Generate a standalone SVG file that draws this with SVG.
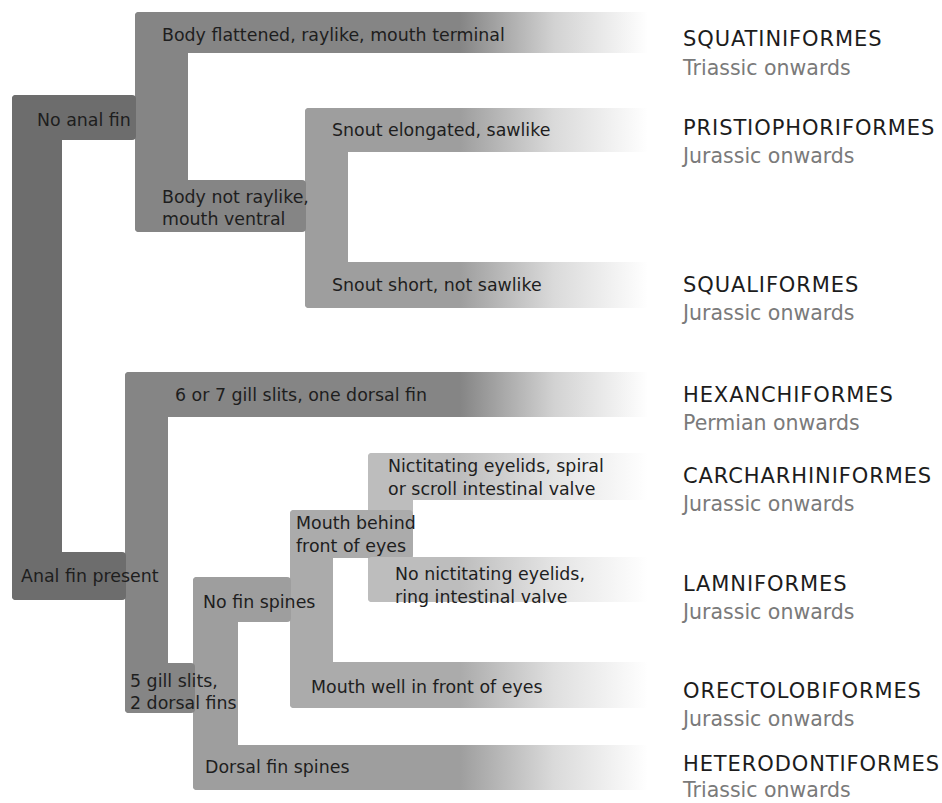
<svg xmlns="http://www.w3.org/2000/svg" width="942" height="803" viewBox="0 0 942 803">
<style>
.lbl{font-family:"DejaVu Sans","Liberation Sans",sans-serif;font-size:17.4px;fill:#1e1e1e}
.tax{font-family:"DejaVu Sans","Liberation Sans",sans-serif;font-size:21px;letter-spacing:0.9px;fill:#1c1c1c}
.age{font-family:"DejaVu Sans","Liberation Sans",sans-serif;font-size:20.5px;fill:#7a7a7a}
.c1{fill:#6d6d6d}.c2{fill:#858585}.c3{fill:#9e9e9e}.c4{fill:#ababab}.c5{fill:#bdbdbd}
</style>
<defs>
<linearGradient id="g2" gradientUnits="userSpaceOnUse" x1="460" y1="0" x2="648" y2="0"><stop offset="0" stop-color="#858585"/><stop offset="0.5" stop-color="#d2d2d2"/><stop offset="1" stop-color="#ffffff"/></linearGradient>
<linearGradient id="g3" gradientUnits="userSpaceOnUse" x1="460" y1="0" x2="648" y2="0"><stop offset="0" stop-color="#9e9e9e"/><stop offset="0.5" stop-color="#dadada"/><stop offset="1" stop-color="#ffffff"/></linearGradient>
<linearGradient id="g4" gradientUnits="userSpaceOnUse" x1="460" y1="0" x2="648" y2="0"><stop offset="0" stop-color="#ababab"/><stop offset="0.5" stop-color="#dfdfdf"/><stop offset="1" stop-color="#ffffff"/></linearGradient>
<linearGradient id="g5" gradientUnits="userSpaceOnUse" x1="460" y1="0" x2="648" y2="0"><stop offset="0" stop-color="#bdbdbd"/><stop offset="0.5" stop-color="#e4e4e4"/><stop offset="1" stop-color="#ffffff"/></linearGradient>
</defs>
<rect width="942" height="803" fill="#ffffff"/>
<g id="connectors">
<rect class="c1" x="12" y="95" width="50" height="505" rx="4"/>
<rect class="c2" x="135" y="12" width="53" height="220" rx="4"/>
<rect class="c3" x="305" y="108" width="43" height="200" rx="4"/>
<rect class="c2" x="125" y="372" width="43" height="341" rx="4"/>
<rect class="c3" x="193" y="577" width="45" height="213" rx="4"/>
<rect class="c4" x="290" y="510" width="43" height="198" rx="4"/>
<rect class="c5" x="368" y="453" width="45" height="149" rx="4"/>
</g>
<g id="node-no-anal-fin"><rect class="c1" x="12" y="95" width="124" height="45" rx="4"/><text class="lbl" x="37" y="126">No anal fin</text></g>
<g id="node-anal-fin-present"><rect class="c1" x="12" y="552" width="114" height="48" rx="4"/><text class="lbl" x="21" y="582">Anal fin present</text></g>
<g id="node-body-flattened"><rect fill="url(#g2)" x="135" y="12" width="515" height="41" rx="4"/><text class="lbl" x="162" y="41">Body flattened, raylike, mouth terminal</text></g>
<g id="node-body-not-raylike"><rect class="c2" x="135" y="180" width="171" height="52" rx="4"/><text class="lbl" x="162" y="203">Body not raylike,</text><text class="lbl" x="162" y="225">mouth ventral</text></g>
<g id="node-snout-elongated"><rect fill="url(#g3)" x="305" y="108" width="345" height="44" rx="4"/><text class="lbl" x="332" y="136">Snout elongated, sawlike</text></g>
<g id="node-snout-short"><rect fill="url(#g3)" x="305" y="262" width="345" height="46" rx="4"/><text class="lbl" x="332" y="291">Snout short, not sawlike</text></g>
<g id="node-6-7-gill"><rect fill="url(#g2)" x="125" y="372" width="525" height="45" rx="4"/><text class="lbl" x="175" y="401">6 or 7 gill slits, one dorsal fin</text></g>
<g id="node-5-gill"><rect class="c2" x="125" y="663" width="70" height="50" rx="4"/><text class="lbl" x="130" y="687">5 gill slits,</text><text class="lbl" x="130" y="709">2 dorsal fins</text></g>
<g id="node-no-fin-spines"><rect class="c3" x="193" y="577" width="98" height="45" rx="4"/><text class="lbl" x="203" y="608">No fin spines</text></g>
<g id="node-dorsal-fin-spines"><rect fill="url(#g3)" x="193" y="745" width="457" height="45" rx="4"/><text class="lbl" x="205" y="773">Dorsal fin spines</text></g>
<g id="node-mouth-behind"><rect class="c4" x="290" y="510" width="123" height="48" rx="4"/><text class="lbl" x="296" y="529">Mouth behind</text><text class="lbl" x="296" y="552">front of eyes</text></g>
<g id="node-mouth-well"><rect fill="url(#g4)" x="290" y="662" width="360" height="46" rx="4"/><text class="lbl" x="311" y="693">Mouth well in front of eyes</text></g>
<g id="node-nictitating"><rect fill="url(#g5)" x="368" y="453" width="282" height="47" rx="4"/><text class="lbl" x="388" y="472">Nictitating eyelids, spiral</text><text class="lbl" x="388" y="495">or scroll intestinal valve</text></g>
<g id="node-no-nictitating"><rect fill="url(#g5)" x="368" y="557" width="282" height="45" rx="4"/><text class="lbl" x="395" y="580">No nictitating eyelids,</text><text class="lbl" x="395" y="603">ring intestinal valve</text></g>
<g id="taxon-squatiniformes"><text class="tax" x="683" y="46">SQUATINIFORMES</text><text class="age" x="683" y="75">Triassic onwards</text></g>
<g id="taxon-pristiophoriformes"><text class="tax" x="683" y="135">PRISTIOPHORIFORMES</text><text class="age" x="683" y="163">Jurassic onwards</text></g>
<g id="taxon-squaliformes"><text class="tax" x="683" y="292">SQUALIFORMES</text><text class="age" x="683" y="320">Jurassic onwards</text></g>
<g id="taxon-hexanchiformes"><text class="tax" x="683" y="402">HEXANCHIFORMES</text><text class="age" x="683" y="430">Permian onwards</text></g>
<g id="taxon-carcharhiniformes"><text class="tax" x="683" y="483">CARCHARHINIFORMES</text><text class="age" x="683" y="511">Jurassic onwards</text></g>
<g id="taxon-lamniformes"><text class="tax" x="683" y="591">LAMNIFORMES</text><text class="age" x="683" y="619">Jurassic onwards</text></g>
<g id="taxon-orectolobiformes"><text class="tax" x="683" y="698">ORECTOLOBIFORMES</text><text class="age" x="683" y="726">Jurassic onwards</text></g>
<g id="taxon-heterodontiformes"><text class="tax" x="683" y="771">HETERODONTIFORMES</text><text class="age" x="683" y="797">Triassic onwards</text></g>
</svg>
